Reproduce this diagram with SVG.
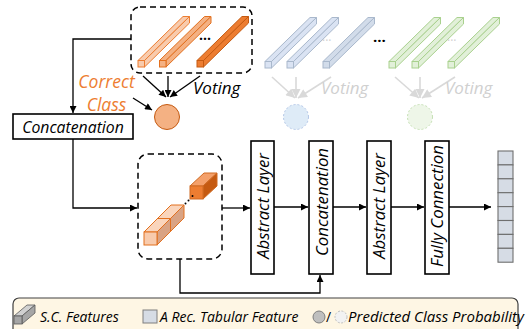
<svg xmlns="http://www.w3.org/2000/svg" width="529" height="329" viewBox="0 0 529 329">
<style>
text{font-family:"Open Sans","Liberation Sans",sans-serif;font-style:italic}
.box{fill:#fff;stroke:#000;stroke-width:1.6}
.dash{fill:none;stroke:#000;stroke-width:1.5;stroke-dasharray:6 4}
.ln{fill:none;stroke:#000;stroke-width:1.3}
.gl{fill:none;stroke:#d9d9d9;stroke-width:1.6}
.lbl{font-size:15.8px;fill:#000}
.vl{font-size:16.8px;fill:#000;text-anchor:middle}
.lg{font-size:14px;fill:#000}
</style>
<defs>
<marker id="ah" viewBox="0 0 10 10" refX="10" refY="5" markerWidth="8" markerHeight="7" markerUnits="userSpaceOnUse" orient="auto"><path d="M0,0L10,5L0,10z" fill="#000"/></marker>
<marker id="ag" viewBox="0 0 10 10" refX="10" refY="5" markerWidth="10" markerHeight="9" markerUnits="userSpaceOnUse" orient="auto"><path d="M0,0L10,5L0,10z" fill="#d9d9d9"/></marker>
<g id="bar">
<polygon points="0,0 6.5,0 51.5,-44 45,-44"/>
<polygon points="6.5,0 6.5,6.5 51.5,-37.5 51.5,-44"/>
<rect x="0" y="0" width="6.5" height="6.5"/>
</g>
</defs>

<g id="connectors">
<polyline class="ln" points="131,39 73,39 73,113" marker-end="url(#ah)"/>
<polyline class="ln" points="73,139 73,208 137,208" marker-end="url(#ah)"/>
<line class="ln" x1="222" y1="208" x2="250" y2="208" marker-end="url(#ah)"/>
<line class="ln" x1="274" y1="207" x2="308" y2="207" marker-end="url(#ah)"/>
<line class="ln" x1="333" y1="207" x2="366" y2="207" marker-end="url(#ah)"/>
<line class="ln" x1="391" y1="207" x2="424" y2="207" marker-end="url(#ah)"/>
<line class="ln" x1="449" y1="207" x2="491" y2="207" marker-end="url(#ah)"/>
<polyline class="ln" points="180,259 180,293 320,293 320,275" marker-end="url(#ah)"/>
<line class="ln" x1="143" y1="76" x2="166" y2="97" marker-end="url(#ah)"/>
<line class="ln" x1="168" y1="76" x2="168" y2="97" marker-end="url(#ah)"/>
<line class="ln" x1="200" y1="76" x2="170" y2="97" marker-end="url(#ah)"/>
<line class="ln" x1="133" y1="98" x2="152" y2="110" marker-end="url(#ah)"/>
<line class="gl" x1="272" y1="77" x2="295" y2="98" marker-end="url(#ag)"/>
<line class="gl" x1="296" y1="77" x2="296" y2="98" marker-end="url(#ag)"/>
<line class="gl" x1="331" y1="77" x2="298" y2="98" marker-end="url(#ag)"/>
<line class="gl" x1="395" y1="77" x2="419" y2="98" marker-end="url(#ag)"/>
<line class="gl" x1="420" y1="77" x2="420" y2="98" marker-end="url(#ag)"/>
<line class="gl" x1="455" y1="77" x2="422" y2="98" marker-end="url(#ag)"/>
</g>

<g id="orange-features">
<rect class="dash" x="131" y="7" width="121" height="66" rx="9"/>
<use href="#bar" transform="translate(138,60.5)" fill="#f8cbad" stroke="#ed7d31" stroke-width="1"/>
<use href="#bar" transform="translate(159.5,60.5)" fill="#f4b183" stroke="#e2701f" stroke-width="1"/>
<use href="#bar" transform="translate(197,60.5)" fill="#ed7d31" stroke="#c55a11" stroke-width="1"/>
<text x="199" y="44" style="font-style:normal;font-size:14px;font-weight:bold" fill="#000">···</text>
</g>

<g id="blue-features">
<use href="#bar" transform="translate(265,61.5)" fill="#dae3f3" stroke="#a9b8cc" stroke-width="1"/>
<use href="#bar" transform="translate(287,61.5)" fill="#dae3f3" stroke="#a9b8cc" stroke-width="1"/>
<use href="#bar" transform="translate(323,61.5)" fill="#d2dcea" stroke="#a9b8cc" stroke-width="1"/>
<text x="322" y="45" style="font-style:normal;font-size:12px" fill="#d0d0d0">···</text>
</g>

<text id="mid-dots" x="373" y="46" style="font-style:normal;font-size:15px;font-weight:bold" fill="#000">···</text>

<g id="green-features">
<use href="#bar" transform="translate(389,61.5)" fill="#e2f0d9" stroke="#a9d18e" stroke-width="1"/>
<use href="#bar" transform="translate(412,61.5)" fill="#e2f0d9" stroke="#a9d18e" stroke-width="1"/>
<use href="#bar" transform="translate(448,61.5)" fill="#e2f0d9" stroke="#a9d18e" stroke-width="1"/>
<text x="447" y="45" style="font-style:normal;font-size:12px" fill="#d0d0d0">···</text>
</g>

<g id="voting-labels">
<text x="193" y="94" style="font-size:17px" fill="#000">Voting</text>
<text x="321" y="94" style="font-size:17px" fill="#d0d0d0">Voting</text>
<text x="445" y="94" style="font-size:17px" fill="#d0d0d0">Voting</text>
<text x="106.5" y="88" style="font-size:17.5px;text-anchor:middle" fill="#ed7d31">Correct</text>
<text x="106.5" y="111" style="font-size:17.5px;text-anchor:middle" fill="#ed7d31">Class</text>
</g>

<g id="circles">
<circle cx="167" cy="117" r="12.5" fill="#f4b183" stroke="#c55a11" stroke-width="1"/>
<circle cx="296" cy="117" r="12.5" fill="#deebf7" stroke="#b4c7e7" stroke-width="1" stroke-dasharray="2 2"/>
<circle cx="420" cy="117" r="12.5" fill="#eef6e8" stroke="#c5e0b4" stroke-width="1" stroke-dasharray="2 2"/>
</g>

<g id="concat-top">
<rect class="box" x="13" y="114" width="120" height="25"/>
<text class="lbl" x="73" y="133" text-anchor="middle">Concatenation</text>
</g>

<g id="tabular-feature">
<rect class="dash" x="138" y="154" width="84" height="105" rx="10"/>
<polygon points="144,232 157,232 184,205 171,205" fill="#fad5bc" stroke="#e2701f" stroke-width="1"/>
<polygon points="157,232 157,245 184,218 184,205" fill="#d9a384" stroke="#e2701f" stroke-width="1"/>
<rect x="144" y="232" width="13" height="13" fill="#f8cbad" stroke="#e2701f" stroke-width="1"/>
<polyline points="157.5,218.5 170.5,218.5 170.5,231.5" fill="none" stroke="#e2701f" stroke-width="1"/>
<polygon points="190,186 203,186 217,173 204,173" fill="#f4a06a" stroke="#d06a22" stroke-width="1"/>
<polygon points="203,186 203,199 217,186 217,173" fill="#c55a11" stroke="#d06a22" stroke-width="1"/>
<rect x="190" y="186" width="13" height="13" fill="#ed7d31" stroke="#d06a22" stroke-width="1"/>
<circle cx="185.5" cy="203.5" r="1" fill="#000"/>
<circle cx="188.5" cy="200.5" r="1" fill="#000"/>
<circle cx="192.5" cy="196" r="1" fill="#000"/>
</g>

<g id="abstract-layer-1">
<rect class="box" x="251" y="141" width="23" height="133"/>
<text class="vl" transform="translate(268.5,206) rotate(-90)">Abstract Layer</text>
</g>
<g id="concatenation-2">
<rect class="box" x="309" y="141" width="24" height="133"/>
<text class="vl" transform="translate(327.5,202) rotate(-90)">Concatenation</text>
</g>
<g id="abstract-layer-2">
<rect class="box" x="367" y="141" width="24" height="133"/>
<text class="vl" transform="translate(385,206) rotate(-90)">Abstract Layer</text>
</g>
<g id="fully-connection">
<rect class="box" x="425" y="141" width="24" height="133"/>
<text class="vl" transform="translate(443,206) rotate(-90)">Fully Connection</text>
</g>

<g id="output" fill="#d6dce5" stroke="#6f6f6f" stroke-width="1.1">
<rect x="498" y="151" width="15" height="13.9"/>
<rect x="498" y="164.9" width="15" height="13.9"/>
<rect x="498" y="178.8" width="15" height="13.9"/>
<rect x="498" y="192.7" width="15" height="13.9"/>
<rect x="498" y="206.6" width="15" height="13.9"/>
<rect x="498" y="220.5" width="15" height="13.9"/>
<rect x="498" y="234.4" width="15" height="13.9"/>
<rect x="498" y="248.3" width="15" height="13.9"/>
</g>

<g id="legend">
<rect x="13" y="298" width="505" height="45" rx="6" fill="#fef6e4" stroke="#404040" stroke-width="1.2"/>
<polygon points="14,316 22,316 35,305 27,305" fill="#d0d0d0" stroke="#595959" stroke-width="0.8"/>
<polygon points="22,316 22,324 35,313 35,305" fill="#a6a6a6" stroke="#595959" stroke-width="0.8"/>
<rect x="14" y="316" width="8" height="8" fill="#a6a6a6" stroke="#595959" stroke-width="0.8"/>
<text class="lg" x="40" y="322">S.C. Features</text>
<rect x="143" y="310" width="14" height="13" fill="#d6dce5" stroke="#7f7f7f" stroke-width="1"/>
<text class="lg" x="160" y="322">A Rec. Tabular Feature</text>
<circle cx="319" cy="317" r="6" fill="#bfbfbf" stroke="#7f7f7f" stroke-width="1"/>
<text x="326" y="322" style="font-size:14px;font-style:normal" fill="#000">/</text>
<circle cx="341" cy="317" r="6" fill="#f2f2f2" stroke="#bfbfbf" stroke-width="1" stroke-dasharray="2 1.5"/>
<text class="lg" x="348" y="322" style="font-size:15px">Predicted Class Probability</text>
</g>
</svg>
